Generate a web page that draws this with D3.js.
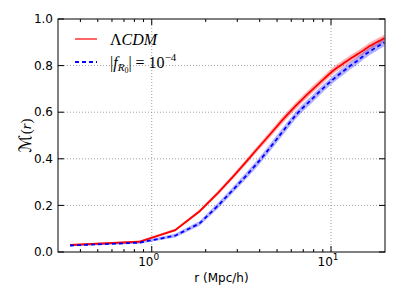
<!DOCTYPE html>
<html>
<head>
<meta charset="utf-8">
<script src="https://cdn.jsdelivr.net/npm/d3@7"></script>
<style>
  body { margin: 0; background: #fff; }
  text { font-family: "DejaVu Sans", sans-serif; }
</style>
</head>
<body>
<div id="chart"></div>
<script>
(function() {

    var width = 399,
    height = 299;

    // radius bins (Mpc/h)
    var radii = [0.35, 0.85, 1.35, 1.85, 2.35, 2.85, 3.35, 3.85, 4.35, 4.85,
                 5.35, 5.85, 6.35, 6.85, 7.35, 7.85, 8.35, 8.85, 9.35, 9.85,
                 10.35, 10.85, 11.35, 11.85, 12.35, 12.85, 13.35, 13.85, 14.35, 14.85,
                 15.35, 15.85, 16.35, 16.85, 17.35, 17.85, 18.35, 18.85, 19.35, 19.85]

    var lcdm = [0.030, 0.044, 0.094, 0.175, 0.255, 0.325, 0.386, 0.440, 0.486, 0.528,
                0.566, 0.598, 0.627, 0.652, 0.675, 0.696, 0.715, 0.733, 0.750, 0.766,
                0.780, 0.792, 0.802, 0.812, 0.821, 0.830, 0.838, 0.846, 0.853, 0.861,
                0.868, 0.876, 0.883, 0.888, 0.894, 0.899, 0.904, 0.908, 0.913, 0.918]
    var lcdmErr = [0.003, 0.004, 0.006, 0.007, 0.009, 0.010, 0.011, 0.012, 0.013, 0.014,
                   0.014, 0.015, 0.015, 0.015, 0.015, 0.015, 0.015, 0.015, 0.015, 0.015,
                   0.015, 0.015, 0.015, 0.015, 0.015, 0.015, 0.015, 0.015, 0.015, 0.015,
                   0.015, 0.015, 0.015, 0.015, 0.015, 0.015, 0.015, 0.015, 0.015, 0.015]

    var fr4 = [0.028, 0.040, 0.070, 0.123, 0.200, 0.268, 0.326, 0.378, 0.427, 0.473,
               0.515, 0.553, 0.587, 0.614, 0.636, 0.657, 0.678, 0.696, 0.713, 0.729,
               0.743, 0.756, 0.768, 0.779, 0.790, 0.800, 0.809, 0.818, 0.827, 0.836,
               0.845, 0.853, 0.860, 0.866, 0.872, 0.878, 0.884, 0.889, 0.894, 0.899]
    var fr4Err = [0.003, 0.005, 0.008, 0.010, 0.012, 0.013, 0.014, 0.015, 0.015, 0.016,
                  0.016, 0.016, 0.016, 0.016, 0.016, 0.016, 0.016, 0.016, 0.016, 0.016,
                  0.016, 0.016, 0.016, 0.016, 0.016, 0.016, 0.016, 0.016, 0.016, 0.016,
                  0.016, 0.016, 0.016, 0.016, 0.016, 0.016, 0.016, 0.016, 0.016, 0.016]

    var yTicks = [0, 0.2, 0.4, 0.6, 0.8, 1.0]
    var xMajor = [1, 10]
    var xMinor = [0.4, 0.5, 0.6, 0.7, 0.8, 0.9, 2, 3, 4, 5, 6, 7, 8, 9]

    var left = 58, right = 385, top = 19, bottom = 252

    var x = d3.scaleLog().domain([0.3, 20]).range([left, right])
    var y = d3.scaleLinear().domain([0, 1]).range([bottom, top])

    var svg = d3.select("#chart")
    .append("svg")
    .attr("height", height)
    .attr("width", width)

    var defs = svg.append("defs")
    defs.append("clipPath").attr("id", "clip")
        .append("rect")
        .attr("x", left).attr("y", top)
        .attr("width", right - left).attr("height", bottom - top)

    // grid
    var grid = svg.append("g")
        .attr("stroke", "#888")
        .attr("stroke-width", 0.8)
        .attr("stroke-dasharray", "1,2")
    grid.selectAll(".gx").data(xMajor).enter().append("line")
        .attr("x1", function(d){ return x(d) }).attr("x2", function(d){ return x(d) })
        .attr("y1", top).attr("y2", bottom)
    grid.selectAll(".gy").data(yTicks.slice(1, 5)).enter().append("line")
        .attr("x1", left).attr("x2", right)
        .attr("y1", function(d){ return y(d) }).attr("y2", function(d){ return y(d) })

    var plot = svg.append("g").attr("clip-path", "url(#clip)")

    function band(vals, errs) {
        return d3.area()
            .x(function(d, i){ return x(radii[i]) })
            .y0(function(d, i){ return y(vals[i] - errs[i]) })
            .y1(function(d, i){ return y(vals[i] + errs[i]) })(radii)
    }
    function curve(vals) {
        return d3.line()
            .x(function(d, i){ return x(radii[i]) })
            .y(function(d, i){ return y(vals[i]) })(radii)
    }

    plot.append("path").attr("d", band(lcdm, lcdmErr))
        .attr("fill", "#ff0000").attr("fill-opacity", 0.3)
    plot.append("path").attr("d", band(fr4, fr4Err))
        .attr("fill", "#0000ff").attr("fill-opacity", 0.3)
    plot.append("path").attr("d", curve(lcdm))
        .attr("fill", "none").attr("stroke", "#ff0000").attr("stroke-width", 1.8)
    plot.append("path").attr("d", curve(fr4))
        .attr("fill", "none").attr("stroke", "#0000ff").attr("stroke-width", 1.8)
        .attr("stroke-dasharray", "4,3")

    // frame
    svg.append("rect")
        .attr("x", left).attr("y", top)
        .attr("width", right - left).attr("height", bottom - top)
        .attr("fill", "none").attr("stroke", "#000").attr("stroke-width", 1)

    // ticks (inward)
    var ticks = svg.append("g").attr("stroke", "#000").attr("stroke-width", 1)
    ticks.selectAll(".ty").data(yTicks).enter().append("path")
        .attr("d", function(d){
            var yy = y(d)
            return "M" + left + "," + yy + "h6M" + right + "," + yy + "h-6"
        })
    ticks.selectAll(".tx").data(xMajor).enter().append("path")
        .attr("d", function(d){
            var xx = x(d)
            return "M" + xx + "," + bottom + "v-6M" + xx + "," + top + "v6"
        })
    ticks.selectAll(".tm").data(xMinor).enter().append("path")
        .attr("d", function(d){
            var xx = x(d)
            return "M" + xx + "," + bottom + "v-3M" + xx + "," + top + "v3"
        })

    // tick labels
    svg.selectAll(".yl").data(yTicks).enter().append("text")
        .attr("x", left - 5)
        .attr("y", function(d){ return y(d) })
        .attr("dy", "0.35em")
        .attr("text-anchor", "end")
        .attr("font-size", 12)
        .text(d3.format(".1f"))

    var xl = svg.selectAll(".xl").data(xMajor).enter().append("text")
        .attr("x", function(d){ return x(d) - 3 })
        .attr("y", bottom + 14)
        .attr("text-anchor", "middle")
        .attr("font-size", 12)
    xl.append("tspan").text("10")
    xl.append("tspan").attr("dy", -6).attr("font-size", 9)
        .text(function(d){ return Math.round(Math.log10(d)) })

    svg.append("text")
        .attr("x", (left + right) / 2)
        .attr("y", 282)
        .attr("text-anchor", "middle")
        .attr("font-size", 12)
        .text("r (Mpc/h)")

    var ylab = svg.append("text")
        .attr("transform", "translate(31," + ((top + bottom) / 2) + ") rotate(-90)")
        .attr("text-anchor", "middle")
        .attr("font-size", 15)
        .style("font-family", "'DejaVu Sans', sans-serif")
    ylab.append("tspan").attr("font-size", 17).text("\u2133")
    ylab.append("tspan").style("font-family", "'Liberation Serif', serif").text("(")
    ylab.append("tspan").style("font-family", "'Liberation Serif', serif").attr("font-style", "italic").text("r")
    ylab.append("tspan").style("font-family", "'Liberation Serif', serif").text(")")

    // legend
    var leg = svg.append("g")
    leg.append("line").attr("x1", 75).attr("x2", 97).attr("y1", 39).attr("y2", 39)
        .attr("stroke", "#ff0000").attr("stroke-width", 1.2)
    leg.append("line").attr("x1", 75).attr("x2", 97).attr("y1", 62).attr("y2", 62)
        .attr("stroke", "#0000ff").attr("stroke-width", 1.8).attr("stroke-dasharray", "4,3")

    var t1 = leg.append("text").attr("x", 110).attr("y", 45)
        .attr("font-size", 16).style("font-family", "'Liberation Serif', serif")
    t1.append("tspan").text("\u039b")
    t1.append("tspan").attr("font-style", "italic").text("CDM")

    var t2 = leg.append("text").attr("x", 110).attr("y", 68)
        .attr("font-size", 16).style("font-family", "'Liberation Serif', serif")
    t2.append("tspan").text("|")
    t2.append("tspan").attr("font-style", "italic").text("f")
    t2.append("tspan").attr("font-style", "italic").attr("font-size", 11).attr("dy", 3).text("R")
    t2.append("tspan").attr("font-size", 8).attr("dy", 2).text("0")
    t2.append("tspan").attr("dy", -5).text("| = 10")
    t2.append("tspan").attr("font-size", 11).attr("dy", -7).text("\u22124")
})();
</script>
</body>
</html>
